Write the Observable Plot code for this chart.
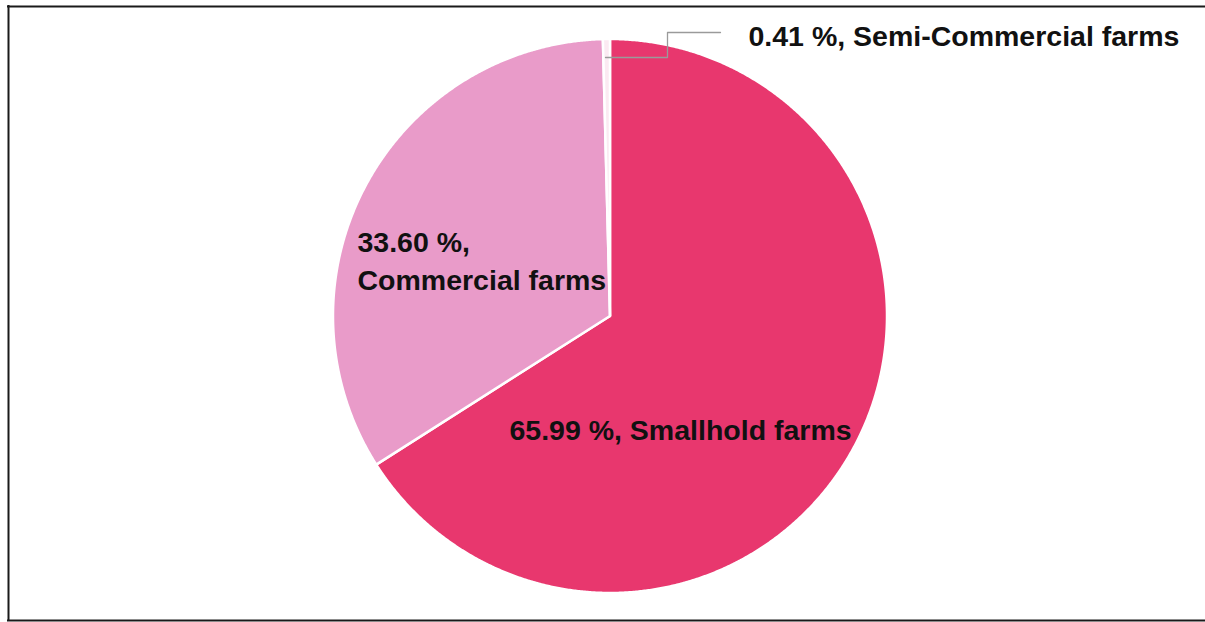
<!DOCTYPE html>
<html><head><meta charset="utf-8">
<script src="https://cdn.jsdelivr.net/npm/d3@7"></script>
<script src="https://cdn.jsdelivr.net/npm/@observablehq/plot@0.6"></script>
<style>body{margin:0;background:#fff;overflow:hidden} svg{display:block}</style>
</head><body><div id="chart"></div>
<script>
// ---- data ----
const categories = ["Smallhold farms", "Commercial farms", "Semi-Commercial farms"];
const shares = [65.99, 33.60, 0.41];
const labels = ["65.99 %, Smallhold farms", "33.60 %,\nCommercial farms", "0.41 %, Semi-Commercial farms"];
const colors = ["#e8376e", "#e99bc9", "#fbeaf2"];

// ---- geometry (derived) ----
const total = d3.sum(shares);
let acc = 0;
const slices = categories.map((c, i) => {
  const a0 = acc / total * 2 * Math.PI; acc += shares[i];
  const a1 = acc / total * 2 * Math.PI;
  return {category: c, a0, a1, label: labels[i]};
});
const outline = slices.flatMap(s => {
  const n = Math.max(2, Math.ceil((s.a1 - s.a0) / 0.005));
  return d3.range(n + 1).map(k => {
    const a = s.a0 + (s.a1 - s.a0) * k / n;
    return {category: s.category, x: Math.sin(a), y: Math.cos(a)};
  });
});

// ---- layout ----
const W = 1205, H = 622, cx = 610, cy = 316, R = 277;
const toX = px => (px - cx) / R, toY = py => (cy - py) / R;
const labelPos = [
  {x: toX(680), y: toY(427), anchor: "middle"},
  {x: toX(357), y: toY(258), anchor: "start"},
  {x: toX(748), y: toY(33), anchor: "start"}
];
const labelData = slices.map((s, i) => ({...s, ...labelPos[i]}));
const leader = [[605, 57], [667, 57], [667, 32], [720, 32]].map(([px, py]) => ({x: toX(px), y: toY(py)}));
const textStyle = {x: "x", y: "y", text: "label", fontFamily: "Liberation Sans, Arial, sans-serif",
  fontWeight: "bold", fontSize: 28.5, lineHeight: 1.36, lineAnchor: "middle", fill: "#111"};

const chart = Plot.plot({
  width: W, height: H,
  margin: 0,
  x: {domain: [-1, 1], range: [cx - R, cx + R], axis: null},
  y: {domain: [-1, 1], range: [cy + R, cy - R], axis: null},
  color: {domain: categories, range: colors},
  marks: [
    Plot.ruleY([toY(6), toY(620)], {x1: toX(7), x2: toX(1300), stroke: "#1a1a1a", strokeWidth: 2}),
    Plot.ruleX([toX(8)], {y1: toY(5), y2: toY(621), stroke: "#1a1a1a", strokeWidth: 2}),
    Plot.area(outline, {x1: "x", y1: "y", x2: 0, y2: 0, z: "category", fill: "category",
      stroke: "white", strokeWidth: 2.5, strokeLinejoin: "round", curve: "linear"}),
    Plot.line(leader, {x: "x", y: "y", stroke: "#9a9a9a", strokeWidth: 1.3, curve: "linear"}),
    Plot.text(labelData.filter(d => d.anchor === "middle"), {...textStyle, textAnchor: "middle"}),
    Plot.text(labelData.filter(d => d.anchor === "start"), {...textStyle, textAnchor: "start"})
  ]
});
document.getElementById("chart").appendChild(chart);
</script>
</body></html>
